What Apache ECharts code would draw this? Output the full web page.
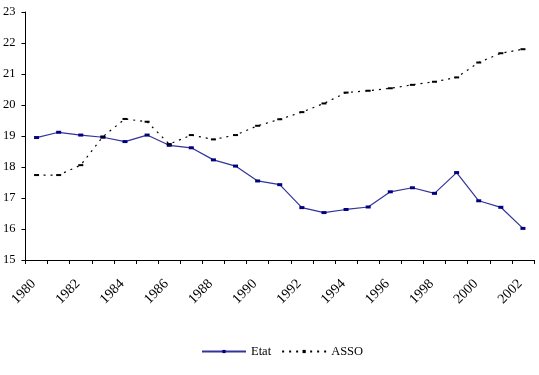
<!DOCTYPE html>
<html><head><meta charset="utf-8">
<script src="https://cdn.jsdelivr.net/npm/echarts@6/dist/echarts.min.js"></script>
<style>html,body{margin:0;padding:0;background:#fff}#c{width:539px;height:375px}</style>
</head><body><div id="c"></div>
<script>
var years = ['1980','1981','1982','1983','1984','1985','1986','1987','1988','1989','1990','1991','1992','1993','1994','1995','1996','1997','1998','1999','2000','2001','2002'];
var etat = [18.95,19.12,19.03,18.96,18.82,19.03,18.7,18.62,18.23,18.03,17.55,17.43,16.69,16.53,16.63,16.71,17.2,17.33,17.15,17.82,16.91,16.7,16.02];
var asso = [17.74,17.74,18.06,18.98,19.55,19.46,18.74,19.03,18.89,19.03,19.33,19.54,19.77,20.05,20.4,20.46,20.54,20.65,20.75,20.89,21.37,21.67,21.8];
var yTicks = [15,16,17,18,19,20,21,22,23];

var font = '"Liberation Serif", "DejaVu Serif", serif';
var chart = echarts.init(document.getElementById('c'));
chart.setOption({
  animation: false,
  backgroundColor: '#fff',
  grid: {left: 24, right: 5, top: 12, bottom: 115, containLabel: false},
  xAxis: {
    type: 'category', data: years, boundaryGap: true,
    axisLine: {lineStyle: {color: '#000', width: 1}},
    axisTick: {show: true, length: 4, inside: false, alignWithLabel: false, interval: 0, lineStyle: {color: '#000'}},
    axisLabel: {interval: 1, rotate: 45, margin: 19, padding: [0, 4, 0, 0], color: '#000', fontFamily: font, fontSize: 14}
  },
  yAxis: {
    type: 'value', min: yTicks[0], max: yTicks[yTicks.length-1], interval: 1,
    axisLine: {show: true, lineStyle: {color: '#000', width: 1}},
    axisTick: {show: true, length: 4, lineStyle: {color: '#000'}},
    splitLine: {show: false},
    axisLabel: {margin: 10, color: '#000', fontFamily: font, fontSize: 12.5}
  },
  legend: {
    bottom: 12, left: 196, itemWidth: 44, itemHeight: 4, itemGap: 10,
    textStyle: {fontFamily: font, fontSize: 12.5, color: '#000'},
    data: ['Etat', 'ASSO']
  },
  series: [
    {name: 'Etat', type: 'line', data: etat,
     symbol: 'rect', symbolSize: [5, 3],
     lineStyle: {color: '#333399', width: 1.2},
     itemStyle: {color: '#000080'}},
    {name: 'ASSO', type: 'line', data: asso,
     symbol: 'rect', symbolSize: [5, 2],
     lineStyle: {color: '#000', width: 1.2, type: [2, 5]},
     itemStyle: {color: '#000'}}
  ]
});
</script></body></html>
